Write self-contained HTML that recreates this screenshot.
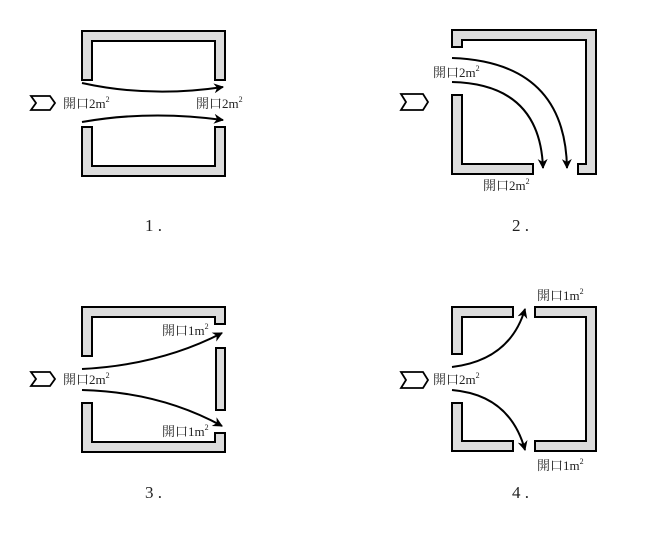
<!DOCTYPE html>
<html><head><meta charset="utf-8"><style>
html,body{margin:0;padding:0;background:#fff}
svg text{font-family:"Liberation Serif","Noto Serif CJK JP",serif;fill:#222}
</style></head><body>
<svg width="647" height="530" viewBox="0 0 647 530" xmlns="http://www.w3.org/2000/svg">
<defs>
<marker id="ah" viewBox="0 0 10 10" refX="9" refY="5" markerWidth="11" markerHeight="10" orient="auto" markerUnits="userSpaceOnUse"><path d="M0,0 L10,5 L0,10 L3,5 Z" fill="#000"/></marker>
</defs>
<g fill="#dcdcdc" stroke="#000" stroke-width="2">
<path d="M82,31 H225 V80 H215 V41 H92 V80 H82 Z"/>
<path d="M82,127 H92 V166 H215 V127 H225 V176 H82 Z"/>
<path d="M452,30 H596 V174 H578 V164 H586 V40 H462 V47 H452 Z"/>
<path d="M452,95 H462 V164 H533 V174 H452 Z"/>
<path d="M82,307 H225 V324 H215 V317 H92 V356 H82 Z"/>
<rect x="216" y="348" width="9" height="62"/>
<path d="M82,403 H92 V442 H215 V433 H225 V452 H82 Z"/>
<path d="M452,307 H513 V317 H462 V354 H452 Z"/>
<path d="M452,403 H462 V441 H513 V451 H452 Z"/>
<path d="M535,307 H596 V451 H535 V441 H586 V317 H535 Z"/>
</g>
<g fill="#fff" stroke="#000" stroke-width="1.8">
<path d="M31,96 H50 L55,103 L50,110 H31 L36,103 Z"/>
<path d="M401,94 H423 L428,102 L423,110 H401 L406,102 Z"/>
<path d="M31,372 H50 L55,379 L50,386 H31 L36,379 Z"/>
<path d="M401,372 H423 L428,380 L423,388 H401 L406,380 Z"/>
</g>
<g fill="none" stroke="#000" stroke-width="2" marker-end="url(#ah)">
<path d="M82,83 Q150,98 223,87"/>
<path d="M82,122 Q150,110 223,120"/>
<path d="M452,58 Q565,62 567,168"/>
<path d="M452,82 Q540,84 543,168"/>
<path d="M82,369 Q160,365 222,333"/>
<path d="M82,390 Q160,392 222,426"/>
<path d="M452,367 Q510,360 525,309"/>
<path d="M452,390 Q510,395 525,450"/>
</g>
<g font-size="13">
<text x="63" y="108">開口2m<tspan font-size="8" dy="-6">2</tspan></text>
<text x="196" y="108">開口2m<tspan font-size="8" dy="-6">2</tspan></text>
<text x="433" y="77">開口2m<tspan font-size="8" dy="-6">2</tspan></text>
<text x="483" y="190">開口2m<tspan font-size="8" dy="-6">2</tspan></text>
<text x="162" y="335">開口1m<tspan font-size="8" dy="-6">2</tspan></text>
<text x="63" y="384">開口2m<tspan font-size="8" dy="-6">2</tspan></text>
<text x="162" y="436">開口1m<tspan font-size="8" dy="-6">2</tspan></text>
<text x="537" y="300">開口1m<tspan font-size="8" dy="-6">2</tspan></text>
<text x="433" y="384">開口2m<tspan font-size="8" dy="-6">2</tspan></text>
<text x="537" y="470">開口1m<tspan font-size="8" dy="-6">2</tspan></text>
</g>
<g font-size="17" style="font-family:'Liberation Mono',monospace">
<text x="145" y="231">1 .</text>
<text x="512" y="231">2 .</text>
<text x="145" y="498">3 .</text>
<text x="512" y="498">4 .</text>
</g>
</svg>
</body></html>
